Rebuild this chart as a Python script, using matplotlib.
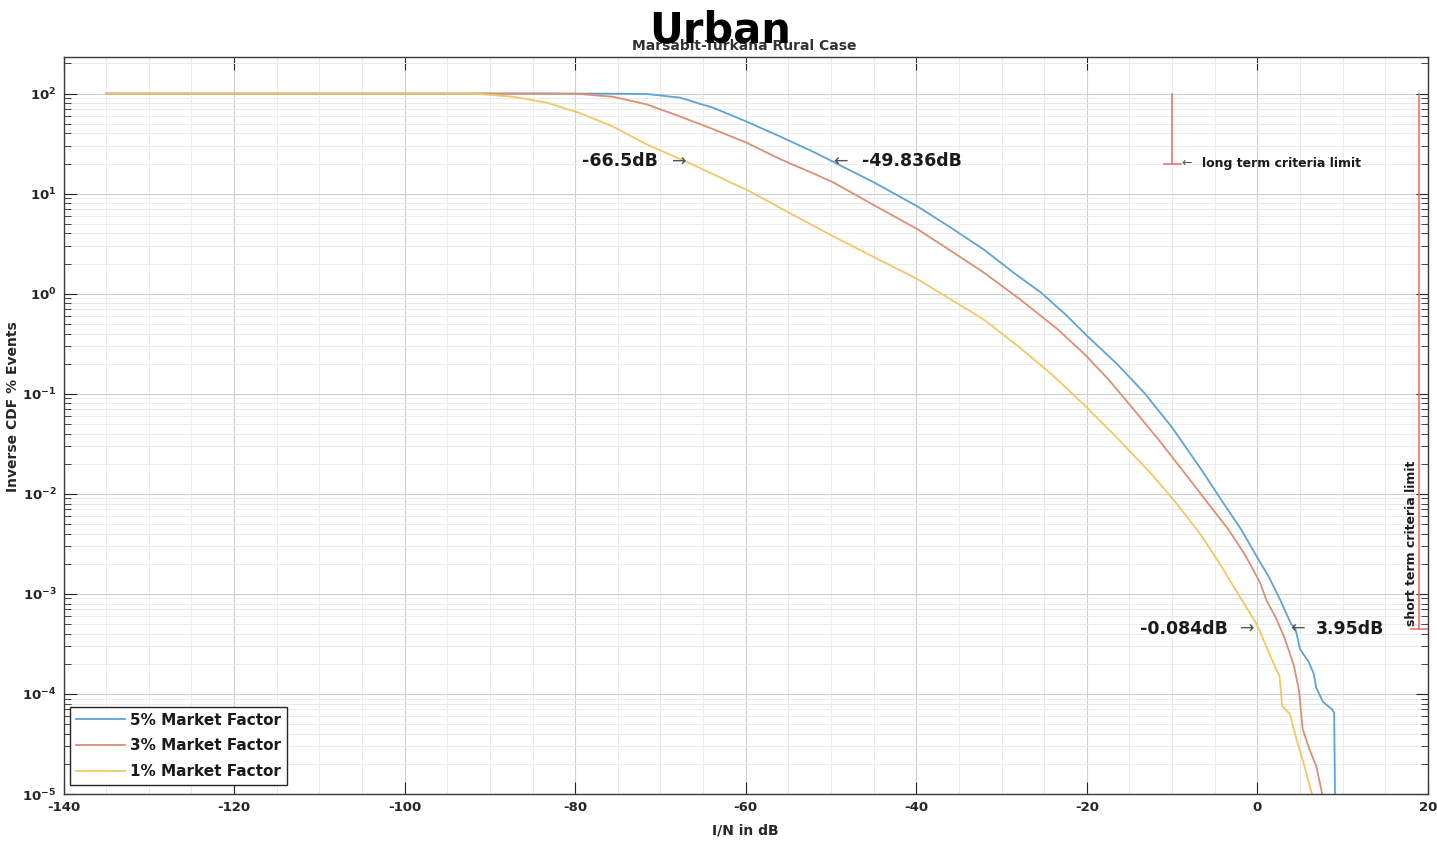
import matplotlib
matplotlib.use('Agg')
import matplotlib.pyplot as plt
from matplotlib.ticker import LogLocator, NullFormatter

plt.rcParams['font.family'] = ['DejaVu Sans']
plt.rcParams['font.weight'] = 'bold'
plt.rcParams['axes.unicode_minus'] = False

# --- data ---
x_5 = [-135, -80, -75, -71.6, -67.7, -63.8, -59.8, -55.9, -52, -49.84, -45, -39.8, -36,
       -32.1, -28.5, -25.4, -22.5, -19.9, -16.5, -13.3, -10, -6.6, -4.2, -1.9, 0, 1.3,
       2.6, 3.95, 4.4, 4.6, 5.0, 6.0, 6.6, 6.9, 7.7, 8.7, 9.0, 9.1]
y_5 = [100, 100, 99.7, 99, 91, 72, 52, 37, 26, 21, 13, 7.4, 4.6,
       2.77, 1.6, 1.03, 0.62, 0.374, 0.2, 0.103, 0.046, 0.0176, 0.0086, 0.0044, 0.0023, 0.0015,
       9e-4, 5e-4, 4.6e-4, 4.0e-4, 2.8e-4, 2.1e-4, 1.6e-4, 1.15e-4, 8.3e-5, 7.1e-5, 6.5e-5, 1e-5]

x_3 = [-135, -83, -79.5, -75.6, -71.6, -67.7, -63.8, -59.8, -55.9, -52, -49.7, -45, -39.8,
       -36, -32.1, -28, -23.4, -20.3, -17.5, -14.4, -11.5, -8.6, -6, -3.4, -1.5, 0.3, 1.1,
       2.2, 3.2, 4.3, 4.9, 5.3, 6.1, 6.9, 7.6]
y_3 = [100, 100, 99, 93, 78, 59, 44, 32, 22, 15.8, 12.9, 7.7, 4.38,
       2.7, 1.63, 0.9, 0.44, 0.25, 0.14, 0.068, 0.034, 0.0164, 0.0085, 0.0044, 0.0025, 0.0013, 8.5e-4,
       5.7e-4, 3.6e-4, 1.9e-4, 1.05e-4, 4.5e-5, 2.8e-5, 1.9e-5, 1e-5]

x_1 = [-135, -92, -87.3, -83.3, -79.5, -75.6, -71.6, -66.5, -63, -59.5, -55, -49.7, -45,
       -39.8, -36, -32.1, -28, -24, -20.3, -16.5, -12.4, -9.5, -6.6, -4.5,
       -2.7, -0.1, 0.3, 1.7, 2.6, 2.9, 3.8, 4.6, 5.6, 6.4]
y_1 = [100, 100, 93, 81, 64, 47, 31, 20, 14.5, 10.5, 6.5, 3.73, 2.33,
       1.39, 0.88, 0.553, 0.296, 0.153, 0.0773, 0.0367, 0.0157, 0.00805, 0.00386, 0.00206,
       0.00115, 5e-4, 4.2e-4, 2.2e-4, 1.5e-4, 7.6e-5, 6.3e-5, 3.5e-5, 1.8e-5, 1e-5]

series_labels = ['5% Market Factor', '3% Market Factor', '1% Market Factor']

long_term_x = -10
long_term_y = [100, 20]
short_term_x = 19
short_term_y = [100, 4.5e-4]

xticks = list(range(-140, 21, 20))
yticks = [1e-5, 1e-4, 1e-3, 1e-2, 1e-1, 1e0, 1e1, 1e2]
ytick_labels = [r'$\mathbf{10^{-5}}$', r'$\mathbf{10^{-4}}$', r'$\mathbf{10^{-3}}$',
                r'$\mathbf{10^{-2}}$', r'$\mathbf{10^{-1}}$', r'$\mathbf{10^{0}}$',
                r'$\mathbf{10^{1}}$', r'$\mathbf{10^{2}}$']

# --- figure ---
fig = plt.figure(figsize=(14.37, 8.43), dpi=100)
ax = fig.add_axes([0.0442, 0.0581, 0.9495, 0.8743])

c_blue, c_orange, c_yellow = '#5ea3d6', '#dc8f74', '#f0c865'
c_red = '#e86a62'

ax.plot(x_5, y_5, color=c_blue, lw=1.3, label=series_labels[0])
ax.plot(x_3, y_3, color=c_orange, lw=1.3, label=series_labels[1])
ax.plot(x_1, y_1, color=c_yellow, lw=1.3, label=series_labels[2])

# criteria limit lines
ax.plot([long_term_x, long_term_x], long_term_y, color=c_red, lw=1.1)
ax.plot([long_term_x - 1, long_term_x + 1], [long_term_y[1]] * 2, color=c_red, lw=1.1)
ax.plot([short_term_x, short_term_x], short_term_y, color=c_red, lw=1.1)
ax.plot([short_term_x - 1, short_term_x + 1], [short_term_y[1]] * 2, color=c_red, lw=1.1)

ax.set_yscale('log')
ax.set_xlim(-140, 20)
ax.set_ylim(1e-5, 232)

ax.set_xticks(xticks)
ax.set_xticks(list(range(-140, 21, 5)), minor=True)
ax.set_yticks(yticks)
ax.set_yticklabels(ytick_labels)
ax.yaxis.set_minor_locator(LogLocator(base=10, subs=range(2, 10), numticks=20))
ax.yaxis.set_minor_formatter(NullFormatter())

ax.grid(True, which='major', color='#d0d0d0', lw=0.8)
ax.grid(True, which='minor', color='#ebebeb', lw=0.7)
ax.set_axisbelow(True)

ax.tick_params(which='both', direction='in', top=True, right=True, colors='#262626',
               labelsize=9.5, pad=5)
ax.tick_params(which='major', length=9, width=0.8)
ax.tick_params(which='minor', length=5, width=0.6)
ax.tick_params(axis='x', which='minor', length=0)
for s in ax.spines.values():
    s.set_color('#3a3a3a')
    s.set_linewidth(1.0)

ax.set_xlabel('I/N in dB', fontsize=10, color='#262626', weight='bold')
ax.set_ylabel('Inverse CDF % Events', fontsize=10, color='#262626', weight='bold')
ax.xaxis.set_label_coords(0.5, -0.04)
ax.yaxis.set_label_coords(-0.032, 0.525)

# annotations
arr_kw = dict(fontsize=12.5, color='#555555', weight='normal', va='center')
lab_kw = dict(fontsize=12.5, color='#1a1a1a', weight='bold', va='center')
ax.text(-67.0, 21, '\u2192', ha='right', **arr_kw)
ax.text(-70.3, 21, '-66.5dB', ha='right', **lab_kw)
ax.text(-49.7, 21, '\u2190', ha='left', **arr_kw)
ax.text(-46.4, 21, '-49.836dB', ha='left', **lab_kw)
ax.text(-0.3, 4.5e-4, '\u2192', ha='right', **arr_kw)
ax.text(-3.5, 4.5e-4, '-0.084dB', ha='right', **lab_kw)
ax.text(3.8, 4.5e-4, '\u2190', ha='left', **arr_kw)
ax.text(6.8, 4.5e-4, '3.95dB', ha='left', **lab_kw)

ax.text(-8.9, 20, '\u2190', ha='left', fontsize=9, color='#555555', weight='normal', va='center')
ax.text(-6.5, 20, 'long term criteria limit', ha='left', va='center', fontsize=9,
        color='#1a1a1a')
ax.text(18.5, 4.8e-4, 'short term criteria limit', rotation=90, rotation_mode='anchor',
        ha='left', va='baseline', fontsize=9, color='#1a1a1a')

leg = ax.legend(loc='lower left', bbox_to_anchor=(0.005, 0.012), borderaxespad=0,
                fontsize=11, handlelength=3.2, labelspacing=0.7, fancybox=False,
                framealpha=1, edgecolor='#262626', borderpad=0.4, handletextpad=0.3)
leg.get_frame().set_linewidth(1.0)
for t in leg.get_texts():
    t.set_color('#1a1a1a')

# titles
fig.text(0.518, 0.9407, 'Marsabit-Turkana Rural Case', ha='center', va='baseline',
         fontsize=10, color='#333333')
fig.text(0.501, 0.949, 'Urban', ha='center', va='baseline', fontsize=30, color='black')

fig.savefig('out.png', dpi=100)
